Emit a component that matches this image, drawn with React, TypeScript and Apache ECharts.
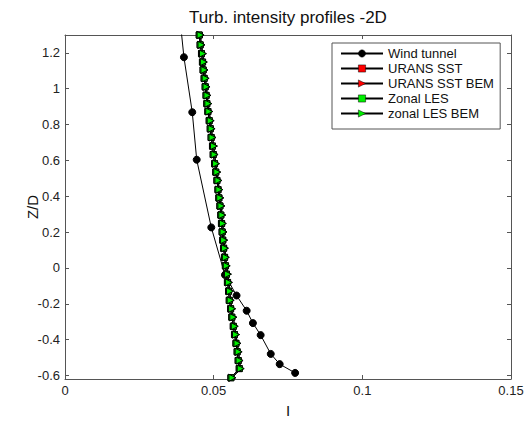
import React, { useEffect, useRef } from "react";
import * as echarts from "echarts";

const legendNames = ["Wind tunnel", "URANS SST", "URANS SST BEM", "Zonal LES", "zonal LES BEM"];

const xTicks = [0, 0.05, 0.1, 0.15];
const yTicks = [-0.6, -0.4, -0.2, 0, 0.2, 0.4, 0.6, 0.8, 1, 1.2];

const windTunnelI = [0.038, 0.04, 0.0428, 0.0443, 0.0492, 0.0538, 0.0577, 0.0611, 0.0632, 0.0658, 0.0692, 0.0722, 0.0774];
const windTunnelZ = [1.5, 1.176, 0.869, 0.604, 0.226, -0.039, -0.154, -0.239, -0.308, -0.375, -0.48, -0.537, -0.586];

const cfdZ = [
  1.3, 1.245, 1.196, 1.149, 1.105, 1.058, 1.011, 0.963, 0.917, 0.873, 0.822, 0.777, 0.728, 0.68,
  0.633, 0.582, 0.535, 0.488, 0.437, 0.391, 0.346, 0.295, 0.248, 0.201, 0.155, 0.11, 0.059, 0.012,
  -0.035, -0.081, -0.13, -0.181, -0.228, -0.275, -0.326, -0.372, -0.421, -0.468, -0.517, -0.562, -0.613,
];

const uransSstI = [
  0.0452, 0.0455, 0.0459, 0.0463, 0.0465, 0.0468, 0.0472, 0.0475, 0.0477, 0.0481, 0.0485, 0.0489, 0.0492, 0.0496,
  0.0499, 0.0503, 0.0507, 0.0511, 0.0515, 0.0518, 0.0521, 0.0524, 0.0527, 0.0529, 0.0531, 0.0534, 0.0537, 0.054,
  0.0543, 0.0547, 0.055, 0.0553, 0.0557, 0.0561, 0.0566, 0.057, 0.0575, 0.0579, 0.0583, 0.0586, 0.0558,
];
const uransSstBemI = [
  0.0455, 0.0458, 0.0463, 0.0466, 0.0469, 0.0472, 0.0475, 0.0478, 0.0481, 0.0485, 0.0489, 0.0492, 0.0496, 0.05,
  0.0503, 0.0507, 0.0511, 0.0515, 0.0518, 0.0522, 0.0525, 0.0528, 0.053, 0.0533, 0.0535, 0.0537, 0.054, 0.0543,
  0.0547, 0.0551, 0.0554, 0.0557, 0.0561, 0.0566, 0.057, 0.0575, 0.0579, 0.0583, 0.0587, 0.059, 0.0562,
];
const zonalLesI = [
  0.0451, 0.0454, 0.0459, 0.0462, 0.0464, 0.0468, 0.0471, 0.0474, 0.0477, 0.048, 0.0485, 0.0488, 0.0491, 0.0496,
  0.0498, 0.0503, 0.0507, 0.0511, 0.0514, 0.0517, 0.0521, 0.0524, 0.0526, 0.0528, 0.053, 0.0533, 0.0536, 0.0539,
  0.0543, 0.0546, 0.055, 0.0552, 0.0557, 0.0561, 0.0566, 0.057, 0.0575, 0.0579, 0.0582, 0.0586, 0.0558,
];
const zonalLesBemI = [
  0.0456, 0.0459, 0.0464, 0.0467, 0.0469, 0.0473, 0.0476, 0.0479, 0.0482, 0.0485, 0.049, 0.0493, 0.0496, 0.0501,
  0.0503, 0.0508, 0.0512, 0.0516, 0.0519, 0.0522, 0.0526, 0.0529, 0.0531, 0.0533, 0.0535, 0.0538, 0.0541, 0.0544,
  0.0548, 0.0551, 0.0555, 0.0557, 0.0562, 0.0566, 0.0571, 0.0575, 0.058, 0.0584, 0.0587, 0.0591, 0.0563,
];

const FONT = "Liberation Sans, Arial, sans-serif";
const TRI_RIGHT = "path://M0,0 L10,5 L0,10 Z";

function pairs(xs: number[], ys: number[]) {
  return xs.map((x, i) => [x, ys[i]]);
}

export default function App() {
  const ref = useRef<HTMLDivElement>(null);
  useEffect(() => {
    if (!ref.current) return;
    const chart = echarts.init(ref.current, undefined, { renderer: "svg" });
    const axisColor = "#555";
    const labelStyle = { color: "#222", fontFamily: FONT, fontSize: 13 };
    const lineSeries = (name: string, data: number[][], symbol: string, size: number, fill: string) => ({
      name,
      type: "line",
      data,
      xAxisIndex: 0,
      yAxisIndex: 0,
      symbol,
      symbolSize: size,
      showAllSymbol: true,
      clip: true,
      lineStyle: { color: "#000", width: 1 },
      itemStyle: { color: fill, borderColor: "#000", borderWidth: 1 },
      emphasis: { disabled: true },
    });
    chart.setOption({
      animation: false,
      backgroundColor: "#fff",
      title: {
        text: "Turb. intensity profiles -2D",
        left: 288,
        top: 9,
        padding: 0,
        textAlign: "center",
        textStyle: { color: "#111", fontFamily: FONT, fontSize: 17, fontWeight: "normal" },
      },
      legend: {
        orient: "vertical",
        left: 332,
        top: 43,
        padding: [3, 6, 8, 8],
        itemGap: 0,
        itemWidth: 42,
        itemHeight: 9,
        backgroundColor: "#fff",
        borderColor: "#555",
        borderWidth: 1,
        itemStyle: { borderWidth: 0.5 },
        data: legendNames,
        textStyle: { color: "#111", fontFamily: FONT, fontSize: 13, lineHeight: 15 },
      },
      grid: { left: 65, right: 17, top: 35, bottom: 37, containLabel: false },
      xAxis: [
        {
          type: "value",
          min: 0,
          max: 0.15,
          interval: 0.05,
          position: "bottom",
          name: "I",
          nameLocation: "middle",
          nameGap: 24,
          nameMoveOverlap: false,
          nameTextStyle: { color: "#111", fontFamily: FONT, fontSize: 15 },
          axisLine: { show: true, onZero: false, lineStyle: { color: axisColor } },
          axisTick: { show: true, inside: true, length: 4, lineStyle: { color: axisColor } },
          axisLabel: { ...labelStyle, margin: 5, customValues: xTicks },
          splitLine: { show: false },
        },
        {
          type: "value",
          min: 0,
          max: 0.15,
          interval: 0.05,
          position: "top",
          axisLine: { show: true, onZero: false, lineStyle: { color: axisColor } },
          axisTick: { show: true, inside: true, length: 4, lineStyle: { color: axisColor } },
          axisLabel: { show: false },
          splitLine: { show: false },
        },
      ],
      yAxis: [
        {
          type: "value",
          min: -0.62,
          max: 1.3,
          position: "left",
          name: "Z/D",
          nameLocation: "middle",
          nameGap: 25,
          nameRotate: 90,
          nameMoveOverlap: false,
          nameTextStyle: { color: "#111", fontFamily: FONT, fontSize: 15 },
          axisLine: { show: true, onZero: false, lineStyle: { color: axisColor } },
          axisTick: { show: true, inside: true, length: 4, customValues: yTicks, lineStyle: { color: axisColor } },
          axisLabel: { ...labelStyle, margin: 5, customValues: yTicks },
          splitLine: { show: false },
        },
        {
          type: "value",
          min: -0.62,
          max: 1.3,
          position: "right",
          axisLine: { show: true, onZero: false, lineStyle: { color: axisColor } },
          axisTick: { show: true, inside: true, length: 4, customValues: yTicks, lineStyle: { color: axisColor } },
          axisLabel: { show: false, customValues: yTicks },
          splitLine: { show: false },
        },
      ],
      series: [
        lineSeries(legendNames[0], pairs(windTunnelI, windTunnelZ), "circle", 7, "#000"),
        lineSeries(legendNames[1], pairs(uransSstI, cfdZ), "rect", 6, "#ff0000"),
        lineSeries(legendNames[2], pairs(uransSstBemI, cfdZ), TRI_RIGHT, 7, "#ff0000"),
        lineSeries(legendNames[3], pairs(zonalLesI, cfdZ), "rect", 6, "#00ee00"),
        lineSeries(legendNames[4], pairs(zonalLesBemI, cfdZ), TRI_RIGHT, 7, "#00ee00"),
      ],
    });
    return () => chart.dispose();
  }, []);
  return (
    <div
      ref={ref}
      style={{ position: "fixed", left: 0, top: 0, width: 528, height: 423, background: "#fff" }}
    />
  );
}
